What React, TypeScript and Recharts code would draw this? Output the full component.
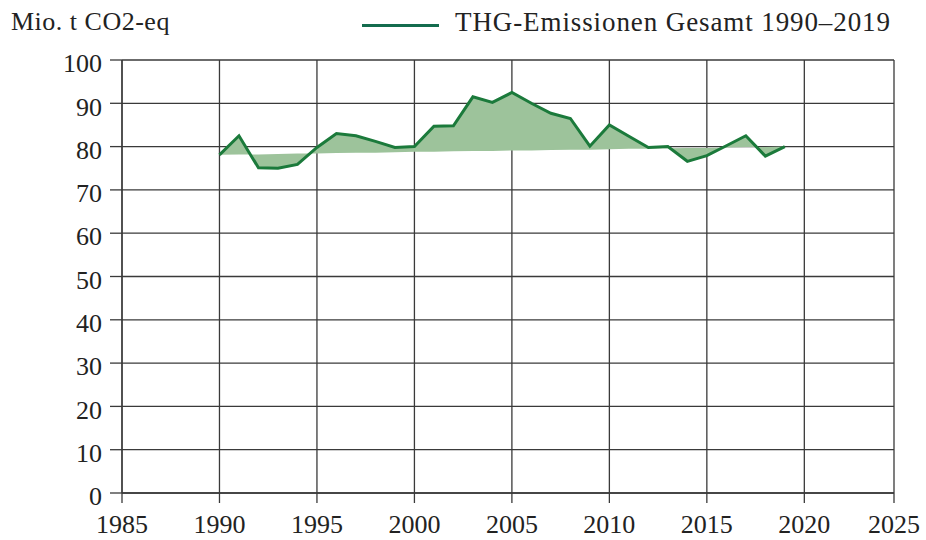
import React from "react";
import { ComposedChart, Area, Line, XAxis, YAxis, CartesianGrid } from "recharts";

// THG-Emissionen Gesamt, Mio. t CO2-eq
const years = [
  1990, 1991, 1992, 1993, 1994, 1995, 1996, 1997, 1998, 1999,
  2000, 2001, 2002, 2003, 2004, 2005, 2006, 2007, 2008, 2009,
  2010, 2011, 2012, 2013, 2014, 2015, 2016, 2017, 2018, 2019,
];
const emissions = [
  78.1, 82.5, 75.1, 75.0, 75.9, 79.8, 83.0, 82.5, 81.2, 79.8,
  80.0, 84.7, 84.8, 91.5, 90.2, 92.5, 90.0, 87.7, 86.5, 80.1,
  85.0, 82.4, 79.8, 80.0, 76.6, 77.9, 80.2, 82.5, 77.8, 80.0,
];
// straight reference line the shaded band is drawn against
const trendBase = [
  78.1, 78.2, 78.2, 78.3, 78.4, 78.4, 78.5, 78.6, 78.6, 78.7,
  78.8, 78.8, 78.9, 79.0, 79.0, 79.1, 79.1, 79.2, 79.3, 79.3,
  79.4, 79.5, 79.5, 79.6, 79.7, 79.7, 79.8, 79.9, 79.9, 80.0,
];
const xTicks = [1985, 1990, 1995, 2000, 2005, 2010, 2015, 2020, 2024.6];
const yTicks = [0, 10, 20, 30, 40, 50, 60, 70, 80, 90, 100];

const data = years.map((year, i) => ({
  year,
  value: emissions[i],
  band: [trendBase[i], emissions[i]],
}));

const FONT = "'Liberation Serif', 'Times New Roman', serif";
const GRID = "#3a3a3a";

export default function App() {
  return (
    <div
      style={{
        position: "absolute",
        left: 0,
        top: 0,
        width: 926,
        height: 540,
        background: "#fff",
        fontFamily: FONT,
        color: "#222",
      }}
    >
      <style>{`svg text, svg tspan { font-family: ${FONT} !important; }`}</style>
      <div
        style={{
          position: "absolute",
          left: 11,
          top: 9,
          fontSize: 26,
          lineHeight: "26px",
          letterSpacing: 0.5,
        }}
      >
        Mio. t CO2-eq
      </div>
      <div
        style={{
          position: "absolute",
          left: 362,
          top: 23.5,
          width: 77,
          height: 3,
          background: "#146c4e",
        }}
      />
      <div
        style={{
          position: "absolute",
          left: 455,
          top: 9,
          fontSize: 27,
          lineHeight: "26px",
          letterSpacing: 0.9,
          whiteSpace: "nowrap",
        }}
      >
        THG-Emissionen Gesamt 1990–2019
      </div>
      <ComposedChart
        width={926}
        height={540}
        data={data}
        margin={{ top: 60, right: 32, bottom: 0, left: 0 }}
        style={{ fontFamily: FONT }}
      >
        <CartesianGrid stroke={GRID} strokeWidth={1.3} />
        <XAxis
          type="number"
          dataKey="year"
          domain={[1985, 2024.6]}
          ticks={xTicks}
          interval={0}
          height={47}
          tickSize={10}
          tickMargin={12}
          tickFormatter={(v) => String(Math.round(v))}
          axisLine={{ stroke: GRID, strokeWidth: 1.3 }}
          tickLine={{ stroke: GRID, strokeWidth: 1.3 }}
          tick={{ fill: "#222", fontSize: 26, fontFamily: FONT, style: { fontFamily: FONT } }}
        />
        <YAxis
          domain={[0, 100]}
          ticks={yTicks}
          interval={0}
          width={122}
          tickSize={12}
          tickMargin={8}
          axisLine={{ stroke: GRID, strokeWidth: 1.3 }}
          tickLine={{ stroke: GRID, strokeWidth: 1.3 }}
          tick={{ fill: "#222", fontSize: 26, fontFamily: FONT, dy: 3, style: { fontFamily: FONT } }}
        />
        <Area
          type="linear"
          dataKey="band"
          stroke="none"
          fill="#9dc39b"
          fillOpacity={1}
          isAnimationActive={false}
        />
        <Line
          type="linear"
          dataKey="value"
          stroke="#1b7a3b"
          strokeWidth={3}
          dot={false}
          isAnimationActive={false}
        />
      </ComposedChart>
    </div>
  );
}
